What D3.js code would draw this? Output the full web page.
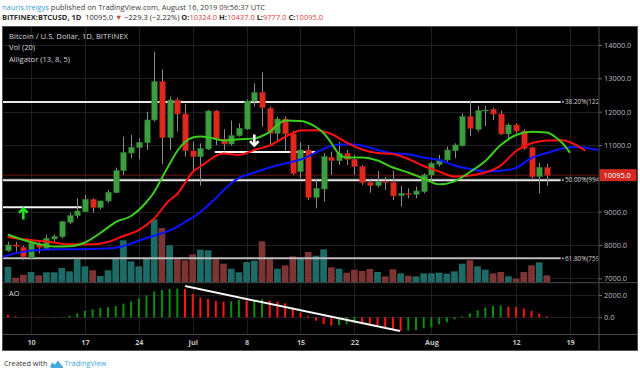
<!DOCTYPE html>
<html><head><meta charset="utf-8">
<script src="https://cdn.jsdelivr.net/npm/d3@7"></script>
<style>body{margin:0;background:#fff;} svg{display:block;font-family:"Open Sans",sans-serif;}</style>
</head><body><svg id="c" width="640" height="374"></svg>
<script>
// ---------------- DATA ----------------
const dates = ["2019-06-07","2019-06-08","2019-06-09","2019-06-10","2019-06-11","2019-06-12","2019-06-13","2019-06-14","2019-06-15","2019-06-16","2019-06-17","2019-06-18","2019-06-19","2019-06-20","2019-06-21","2019-06-22","2019-06-23","2019-06-24","2019-06-25","2019-06-26","2019-06-27","2019-06-28","2019-06-29","2019-06-30","2019-07-01","2019-07-02","2019-07-03","2019-07-04","2019-07-05","2019-07-06","2019-07-07","2019-07-08","2019-07-09","2019-07-10","2019-07-11","2019-07-12","2019-07-13","2019-07-14","2019-07-15","2019-07-16","2019-07-17","2019-07-18","2019-07-19","2019-07-20","2019-07-21","2019-07-22","2019-07-23","2019-07-24","2019-07-25","2019-07-26","2019-07-27","2019-07-28","2019-07-29","2019-07-30","2019-07-31","2019-08-01","2019-08-02","2019-08-03","2019-08-04","2019-08-05","2019-08-06","2019-08-07","2019-08-08","2019-08-09","2019-08-10","2019-08-11","2019-08-12","2019-08-13","2019-08-14","2019-08-15","2019-08-16"];
const open = [7830,8000,7930,7630,8030,7900,8180,8250,8680,8880,9000,9370,9120,9320,9570,10230,10760,10920,11070,11750,12900,11220,12350,11930,10820,10650,10880,12020,11180,11030,11280,11480,12320,12580,12100,11350,11780,11330,10200,10850,9430,9680,10630,10530,10750,10570,10350,9880,9780,9900,9870,9480,9540,9520,9600,10100,10420,10550,10830,10980,11850,11470,12020,12070,11930,11330,11600,11420,10920,10050,10324];
const high = [8100,8090,7980,8100,8080,8300,8320,8730,8970,9400,9500,9400,9330,9650,10320,11250,11300,11200,12000,13800,13270,12450,12420,12230,11100,11050,12050,12050,11470,11730,11650,12360,12850,13180,12150,11850,11850,11430,11080,11000,9950,10750,10800,11100,10850,10700,10400,9950,10220,10050,10220,9770,9700,9750,10150,10500,10700,10950,11050,11950,12330,12170,12170,12120,12030,11650,11650,11470,10950,10470,10437];
const low = [7790,7800,7550,7570,7750,7850,8050,8200,8620,8800,8990,8970,9070,9260,9560,10100,10600,10570,10850,11700,10430,10850,11400,10650,10200,9780,10850,11000,10850,10980,11250,11450,12150,11550,11000,11150,10830,10100,10000,9350,9100,9300,10100,10400,10400,10100,9800,9570,9730,9650,9350,9150,9400,9400,9550,9900,10350,10500,10600,10950,11270,11400,11570,11750,11300,11180,11350,10850,10000,9550,9777];
const close = [8000,7960,7650,8050,7930,8200,8250,8700,8880,9020,9370,9130,9320,9580,10230,10770,10930,11080,11750,12900,11220,12350,11930,10830,10650,10900,12020,11200,11030,11280,11500,12320,12570,12120,11350,11780,11330,10150,10850,9430,9700,10650,10530,10750,10570,10350,9870,9780,9900,9870,9470,9550,9520,9620,10100,10450,10550,10850,11000,11850,11500,12030,12050,11930,11330,11600,11420,10900,10050,10330,10095];
const volume = [9000,2600,4400,6000,4000,5800,5800,8400,6400,13600,9400,7000,3600,7000,14000,25000,12400,9400,14000,37600,32400,22000,13600,13000,16600,19400,19000,13600,11000,8000,5800,12000,12800,24400,13600,8000,10000,15400,14000,18000,15800,19600,8800,8000,5600,7400,6600,7800,6000,3400,7600,5200,3800,3400,5200,5200,5600,5000,6400,11000,13000,9400,7400,5200,6000,3400,2000,6000,10000,11800,4000];
const ao = [210,90,30,10,-10,-20,0,30,150,360,570,720,840,900,1020,1230,1435,1705,1975,2330,2450,2540,2570,2520,2090,1765,1645,1465,1405,1435,1555,1495,1555,1615,1495,1405,1255,870,420,120,-300,-600,-750,-690,-630,-480,-600,-750,-840,-990,-1080,-1225,-1195,-1135,-990,-900,-630,-450,-180,90,360,630,870,1015,1075,955,925,775,570,330,90];
// Alligator (13, 8, 5), shifted forward as drawn
const jaw = [["2019-06-06",7624],["2019-06-09",7800],["2019-06-12",7864],["2019-06-15",7873],["2019-06-18",7880],["2019-06-21",7918],["2019-06-23",8044],["2019-06-25",8209],["2019-06-27",8350],["2019-06-29",8540],["2019-06-30",8689],["2019-07-01",8820],["2019-07-03",9190],["2019-07-04",9400],["2019-07-05",9640],["2019-07-07",10010],["2019-07-09",10174],["2019-07-11",10324],["2019-07-13",10444],["2019-07-15",10564],["2019-07-17",10774],["2019-07-19",10969],["2019-07-21",11020],["2019-07-23",10984],["2019-07-25",10849],["2019-07-27",10750],["2019-07-29",10723],["2019-07-31",10624],["2019-08-02",10549],["2019-08-04",10384],["2019-08-06",10279],["2019-08-08",10204],["2019-08-10",10225],["2019-08-12",10315],["2019-08-14",10610],["2019-08-16",10759],["2019-08-18",10894],["2019-08-20",10945],["2019-08-22",10870],["2019-08-24",10789]];
const teeth = [["2019-06-07",8239],["2019-06-09",8170],["2019-06-12",8104],["2019-06-15",8023],["2019-06-18",8020],["2019-06-20",8089],["2019-06-22",8269],["2019-06-24",8449],["2019-06-26",8794],["2019-06-28",9349],["2019-06-29",9529],["2019-06-30",9859],["2019-07-01",10189],["2019-07-02",10354],["2019-07-03",10519],["2019-07-04",10669],["2019-07-05",10744],["2019-07-07",10705],["2019-07-08",10759],["2019-07-09",10849],["2019-07-11",10984],["2019-07-13",11239],["2019-07-15",11431],["2019-07-17",11443],["2019-07-19",11329],["2019-07-21",11074],["2019-07-23",10864],["2019-07-25",10759],["2019-07-27",10729],["2019-07-29",10579],["2019-07-31",10369],["2019-08-02",10204],["2019-08-04",10054],["2019-08-06",10084],["2019-08-08",10174],["2019-08-10",10384],["2019-08-12",10819],["2019-08-14",11050],["2019-08-16",11131],["2019-08-18",11143],["2019-08-20",10969],["2019-08-21",10828]];
const lips = [["2019-06-07",8314],["2019-06-09",8149],["2019-06-11",8029],["2019-06-13",7954],["2019-06-15",7960],["2019-06-17",8074],["2019-06-19",8359],["2019-06-21",8689],["2019-06-23",8869],["2019-06-25",9289],["2019-06-26",9589],["2019-06-27",10009],["2019-06-28",10429],["2019-06-29",10819],["2019-06-30",11089],["2019-07-01",11224],["2019-07-02",11254],["2019-07-03",11233],["2019-07-04",11179],["2019-07-05",11134],["2019-07-07",11170],["2019-07-09",11194],["2019-07-10",11269],["2019-07-11",11389],["2019-07-12",11599],["2019-07-13",11734],["2019-07-15",11719],["2019-07-16",11659],["2019-07-17",11539],["2019-07-18",11359],["2019-07-19",11059],["2019-07-20",10729],["2019-07-21",10624],["2019-07-23",10624],["2019-07-25",10534],["2019-07-27",10324],["2019-07-29",10174],["2019-07-31",9994],["2019-08-02",9820],["2019-08-04",9910],["2019-08-06",10189],["2019-08-08",10519],["2019-08-10",10999],["2019-08-12",11299],["2019-08-14",11398],["2019-08-16",11374],["2019-08-17",11254],["2019-08-18",11059],["2019-08-19",10768]];
const priceTicks = [7000,8000,9000,10000,11000,12000,13000,14000];
const priceLabelTicks = [7000,8000,9000,11000,12000,13000,14000]; // 10000.0 is hidden under the last-price tag
const aoTicks = [0,2000];
const timeTickDates = ["2019-06-10","2019-06-17","2019-06-24","2019-07-01","2019-07-08","2019-07-15","2019-07-22","2019-08-01","2019-08-12","2019-08-19"];
const timeTickLabels = ["10","17","24","Jul","8","15","22","Aug","12","19"];
const fibLevels = [["38.20%(12292.6)",12292.6],["50.00%(9945.5)",9945.5],["61.80%(7598.4)",7598.4]];
const fibEnd = "2019-08-17T19:00Z";
const hLines = [["2019-06-01","2019-06-16T14:00Z",9130],["2019-07-03T21:00Z","2019-07-16T22:00Z",10790]];
const aoTrend = [["2019-06-30",2800],["2019-07-27T22:00Z",-1230]];
const arrows = [["2019-06-09",8930,"up","#22e022"],["2019-07-09",11150,"down","#ffffff"]];
const lastPrice = 10095.0;

// ---------------- LAYOUT ----------------
const L = 3, R = 598.5, mainTop = 27, mainBot = 282.5, aoTop = 283, aoBot = 334;
const svg = d3.select("#c");
const P = d => new Date(d);
const x = d3.scaleUtc().domain([P(dates[0]), P(dates[dates.length-1])]).range([7.9, 546.9]);
const y = d3.scaleLinear().domain([7000, 14000]).range([278.3, 45.0]);
const yVol = d3.scaleLinear().domain([0, 60000]).range([282, 182]);
const yAO = d3.scaleLinear().domain([0, 2000]).range([317.3, 295]);

function fit(sel, width){
  const n = sel.node(); const fs = parseFloat(sel.attr("font-size"));
  const w = n.getComputedTextLength();
  if (w > 0) sel.attr("font-size", (fs*width/w).toFixed(2));
  return sel;
}

svg.append("rect").attr("width",640).attr("height",374).attr("fill","#fff");
svg.append("rect").attr("x",2.5).attr("y",26.5).attr("width",635).attr("height",324).attr("fill","#000").attr("stroke","#505050");

const defs = svg.append("defs");
defs.append("clipPath").attr("id","cm").append("rect").attr("x",L).attr("y",mainTop).attr("width",R-L).attr("height",mainBot-mainTop);
defs.append("clipPath").attr("id","ca").append("rect").attr("x",L).attr("y",aoTop).attr("width",R-L).attr("height",aoBot-aoTop);

// grid
const grid = svg.append("g").attr("stroke","#1f1f1f").attr("stroke-width",1);
timeTickDates.forEach(d => {
  const xx = Math.round(x(P(d))) + 0.5;
  grid.append("line").attr("x1",xx).attr("x2",xx).attr("y1",mainTop).attr("y2",aoBot);
});
priceTicks.forEach(p => {
  const yy = Math.round(y(p)) + 0.5;
  grid.append("line").attr("x1",L).attr("x2",R).attr("y1",yy).attr("y2",yy);
});
aoTicks.forEach(p => {
  const yy = Math.round(yAO(p)) + 0.5;
  grid.append("line").attr("x1",L).attr("x2",R).attr("y1",yy).attr("y2",yy);
});

// main pane
const main = svg.append("g").attr("clip-path","url(#cm)");
const bw = 6.7;
main.selectAll(".vol").data(dates).join("rect")
  .attr("x", (d,i) => x(P(d)) - bw/2)
  .attr("y", (d,i) => yVol(volume[i]))
  .attr("width", bw)
  .attr("height", (d,i) => yVol(0) - yVol(volume[i]))
  .attr("fill", (d,i) => close[i] >= open[i] ? "#1d6b66" : "#7c3434");

// last price line
main.append("line").attr("x1",L).attr("x2",R).attr("y1",y(lastPrice)).attr("y2",y(lastPrice)).attr("stroke","#6e1414").attr("stroke-width",1);

// fib lines
fibLevels.forEach((f,k) => {
  main.append("line").attr("x1",L).attr("x2",x(P(fibEnd))).attr("y1",y(f[1])).attr("y2",y(f[1]))
    .attr("stroke", k===2 ? "#bdbdbd" : "#e8e8e8").attr("stroke-width",2);
  main.append("circle").attr("cx",x(P(fibEnd))+2.2).attr("cy",y(f[1])).attr("r",0.9).attr("fill","#cfcfcf");
  main.append("text").attr("x",x(P(fibEnd))+4.2).attr("y",y(f[1])).attr("dy","0.35em")
    .attr("font-size",6.4).attr("fill","#d0d0d0").text(f[0]);
});
hLines.forEach(h => {
  main.append("line").attr("x1",x(P(h[0]))).attr("x2",x(P(h[1]))).attr("y1",y(h[2])).attr("y2",y(h[2]))
    .attr("stroke","#f2f2f2").attr("stroke-width",2);
});

// candles
const cw = 5.4;
main.selectAll(".wick").data(dates).join("line")
  .attr("x1",(d)=>Math.round(x(P(d)))+0.5).attr("x2",(d)=>Math.round(x(P(d)))+0.5)
  .attr("y1",(d,i)=>y(high[i])).attr("y2",(d,i)=>y(low[i]))
  .attr("stroke","#8c8c8c").attr("stroke-width",1);
main.selectAll(".body").data(dates).join("rect")
  .attr("x",(d)=>Math.round(x(P(d)))+0.5-cw/2)
  .attr("y",(d,i)=>y(Math.max(open[i],close[i])))
  .attr("width",cw)
  .attr("height",(d,i)=>Math.max(1, y(Math.min(open[i],close[i])) - y(Math.max(open[i],close[i]))))
  .attr("fill",(d,i)=> close[i]>=open[i] ? "#3d9e3f" : "#e0281e")
  .attr("stroke",(d,i)=> close[i]>=open[i] ? "#2f7f31" : "#a82018")
  .attr("stroke-width",0.6);

// alligator
const line = d3.line().x(d=>x(P(d[0]))).y(d=>y(d[1])).curve(d3.curveMonotoneX);
[[jaw,"#0a14ff"],[teeth,"#ff1010"],[lips,"#3ccc1c"]].forEach(([arr,c]) => {
  main.append("path").attr("d",line(arr)).attr("fill","none").attr("stroke",c).attr("stroke-width",2);
});

// arrows
arrows.forEach(a => {
  const cx = x(P(a[0])), cy = y(a[1]);
  const s = a[2]==="up" ? -1 : 1;
  const g = main.append("g").attr("stroke",a[3]).attr("stroke-width",2.6).attr("fill","none").attr("stroke-linecap","butt");
  g.append("line").attr("x1",cx).attr("x2",cx).attr("y1",cy - s*5.5).attr("y2",cy + s*5.2);
  g.append("path").attr("d",`M${cx-4.3},${cy+s*1.2}L${cx},${cy+s*5.5}L${cx+4.3},${cy+s*1.2}`);
});

// AO pane
const aoG = svg.append("g").attr("clip-path","url(#ca)");
aoG.selectAll(".ao").data(dates).join("rect")
  .attr("x",(d)=>x(P(d))-1)
  .attr("y",(d,i)=>Math.min(yAO(ao[i]), yAO(0)))
  .attr("width",2)
  .attr("height",(d,i)=>Math.max(0.3, Math.abs(yAO(ao[i]) - yAO(0))))
  .attr("fill",(d,i)=> (i>0 && ao[i] >= ao[i-1]) ? "#0a8f0a" : "#ff1414");
aoG.append("line").attr("x1",x(P(aoTrend[0][0]))).attr("y1",yAO(aoTrend[0][1]))
  .attr("x2",x(P(aoTrend[1][0]))).attr("y2",yAO(aoTrend[1][1]))
  .attr("stroke","#f5f5f5").attr("stroke-width",2);

// separators
const sep = svg.append("g").attr("stroke","#4a4a4a").attr("stroke-width",1);
sep.append("line").attr("x1",L).attr("x2",637.5).attr("y1",mainBot+0.2).attr("y2",mainBot+0.2);
sep.append("line").attr("x1",L).attr("x2",637.5).attr("y1",aoBot+0.5).attr("y2",aoBot+0.5);
sep.append("line").attr("x1",R+0.5).attr("x2",R+0.5).attr("y1",26.5).attr("y2",350.5);

// axes
function styleAxis(g){
  g.select(".domain").remove();
  g.selectAll(".tick line").attr("stroke","#6a6a6a");
  g.selectAll(".tick text").attr("fill","#bdbdbd").attr("font-size",7.4).attr("font-family","Open Sans");
}
svg.append("g").attr("transform",`translate(${R+0.5},0)`)
  .call(d3.axisRight(y).tickValues(priceLabelTicks).tickFormat(d3.format(".1f")).tickSize(3).tickPadding(2))
  .call(styleAxis);
svg.append("g").attr("transform",`translate(${R+0.5},0)`)
  .call(d3.axisRight(yAO).tickValues(aoTicks).tickFormat(d3.format(".1f")).tickSize(3).tickPadding(2))
  .call(styleAxis);
svg.append("g").attr("transform",`translate(0,${aoBot+0.5})`)
  .call(d3.axisBottom(x).tickValues(timeTickDates.map(P)).tickFormat((d,i)=>timeTickLabels[i]).tickSize(0).tickPadding(5))
  .call(styleAxis)
  .call(g => g.selectAll(".tick text").attr("font-weight","bold").attr("fill","#c4c4c4").attr("font-size",7.2));

// last price label
const lp = svg.append("g");
lp.append("rect").attr("x",R+1).attr("y",y(lastPrice)-6).attr("width",37).attr("height",12).attr("fill","#d42a22");
lp.append("text").attr("x",R+5).attr("y",y(lastPrice)).attr("dy","0.35em").attr("font-size",7.4).attr("fill","#fff").text(d3.format(".1f")(lastPrice));

// legends
const leg = svg.append("g").attr("fill","#d6d6d6");
fit(leg.append("text").attr("x",9).attr("y",38.5).attr("font-size",8).text("Bitcoin / U.S. Dollar, 1D, BITFINEX"), 119);
fit(leg.append("text").attr("x",9).attr("y",50).attr("font-size",8).text("Vol (20)"), 26);
fit(leg.append("text").attr("x",9).attr("y",61.5).attr("font-size",8).text("Alligator (13, 8, 5)"), 61);
fit(leg.append("text").attr("x",9).attr("y",295.5).attr("font-size",8).text("AO"), 10.5);

// header
const h1 = svg.append("text").attr("x",2).attr("y",9.5).attr("font-size",8.8);
h1.append("tspan").attr("fill","#3aa0dc").text("nauris.treigys");
h1.append("tspan").attr("fill","#3c3c3c").text(" published on TradingView.com, August 16, 2019 09:56:37 UTC");
fit(h1, 263);
const h2 = svg.append("text").attr("x",2).attr("y",19.5).attr("font-size",8.8).attr("xml:space","preserve");
const red = "#e0403a", dark = "#2a2a2a";
[["BITFINEX:BTCUSD, 1D",dark,"bold"],["  10095.0 ",dark,"normal"],["▼",red,"normal"],[" −229.3 (−2.22%) ",dark,"normal"],
 ["O:",dark,"bold"],["10324.0",red,"normal"],[" H:",dark,"bold"],["10437.0",red,"normal"],[" L:",dark,"bold"],["9777.0",red,"normal"],[" C:",dark,"bold"],["10095.0",red,"normal"]]
 .forEach(t => h2.append("tspan").attr("fill",t[1]).attr("font-weight",t[2]).text(t[0]));
fit(h2, 321);

// footer
const ft = svg.append("g");
fit(ft.append("text").attr("x",4).attr("y",366).attr("font-size",8.6).attr("fill","#333").text("Created with"), 43.5);
const logo = ft.append("g").attr("fill","#45a8de");
logo.append("path").attr("d","M50,367 L52,362.5 L55,364.5 L58,360.5 L63,367 Z");
logo.append("path").attr("d","M51,367.5 L63,367.5").attr("stroke","#45a8de").attr("stroke-width",1);
fit(ft.append("text").attr("x",64.5).attr("y",366).attr("font-size",8.6).attr("fill","#3aa6e0").text("TradingView"), 42);
</script></body></html>
